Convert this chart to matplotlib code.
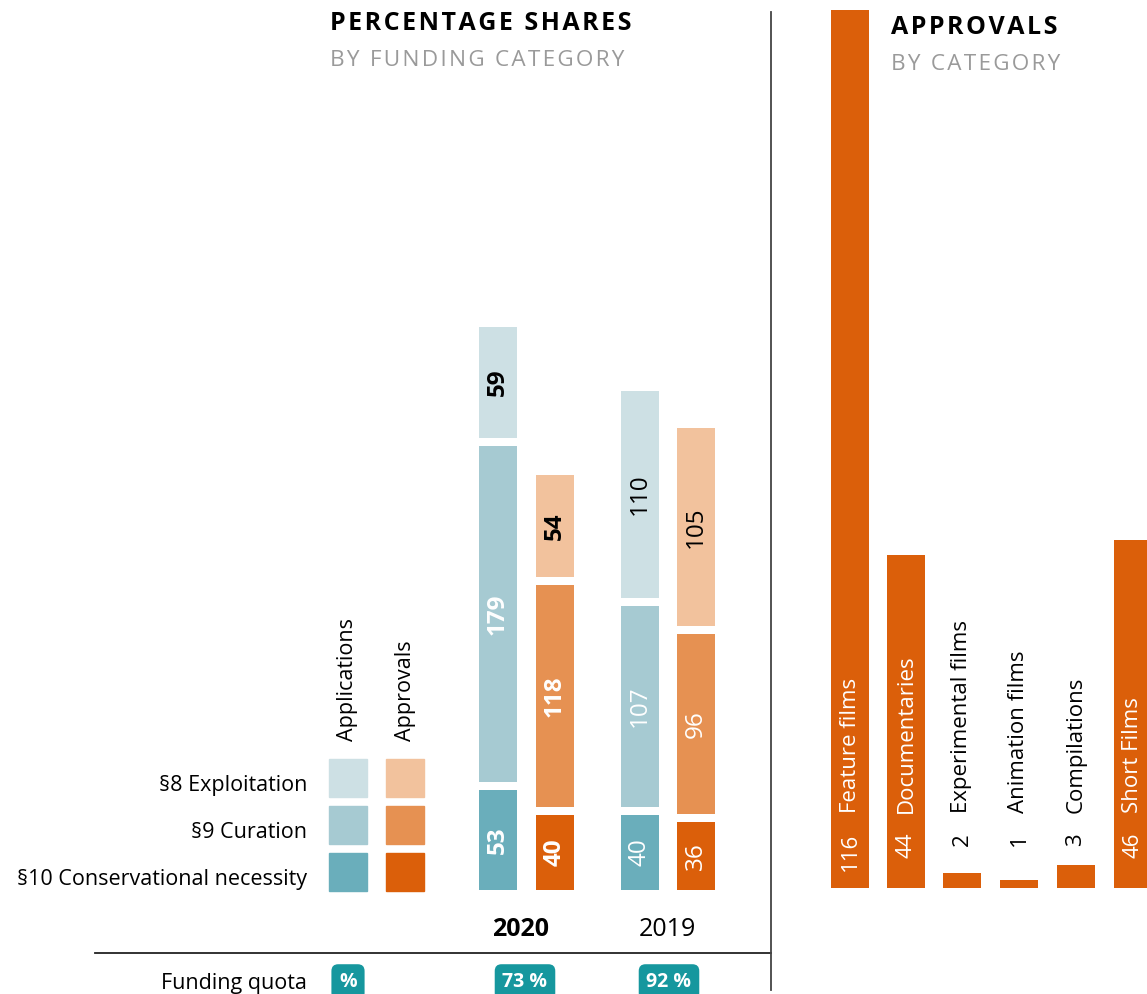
import matplotlib.pyplot as plt
from matplotlib.patches import Rectangle

plt.rcParams['font.family'] = ['Open Sans', 'DejaVu Sans']

# data
years = ['2020', '2019']
categories = ['§8 Exploitation', '§9 Curation', '§10 Conservational necessity']
applications = {'2020': [59, 179, 53], '2019': [110, 107, 40]}
approvals = {'2020': [54, 118, 40], '2019': [105, 96, 36]}
funding_quota = ['73 %', '92 %']

film_types = ['Feature films', 'Documentaries', 'Experimental films',
              'Animation films', 'Compilations', 'Short Films']
film_approvals = [116, 44, 2, 1, 3, 46]

# colours: light, mid, dark
TEAL = ['#cde0e4', '#a6cad2', '#6aaebb']
ORANGE = ['#f2c29d', '#e69152', '#db5f0a']
BADGE = '#16979e'

W, H = 1147, 994
fig = plt.figure(figsize=(W / 100, H / 100), dpi=100)

# left stacked bars, value units (1.88 px per unit, baseline at y=890)
L_SCALE, L_BASE = 1.88, 890
axl = fig.add_axes([0, 0, 1, 1], zorder=1)
axl.set_xlim(0, W)
axl.set_ylim(-(H - L_BASE) / L_SCALE, L_BASE / L_SCALE)
axl.axis('off')

# right bars (7.57 px per unit, baseline at y=888)
R_SCALE, R_BASE = 7.57, 888
axr = fig.add_axes([0, 0, 1, 1], zorder=2)
axr.set_xlim(0, W)
axr.set_ylim(-(H - R_BASE) / R_SCALE, R_BASE / R_SCALE)
axr.axis('off')
axr.patch.set_alpha(0)

# overlay axes in pixel coordinates for layout text
ax = fig.add_axes([0, 0, 1, 1], zorder=3)
ax.set_xlim(0, W)
ax.set_ylim(H, 0)
ax.axis('off')
ax.patch.set_alpha(0)

gap = 8 / L_SCALE
bar_w = 38
group_x = {'2020': (498, 555), '2019': (640, 696)}

for year in years:
    bold = 'bold' if year == '2020' else 'normal'
    for x, vals, cols in [(group_x[year][0], applications[year], TEAL),
                          (group_x[year][1], approvals[year], ORANGE)]:
        bottom = 0
        # stack from bottom (§10) to top (§8)
        for i in (2, 1, 0):
            v = vals[i]
            axl.bar(x, v, width=bar_w, bottom=bottom, color=cols[i])
            axl.text(x, bottom + v / 2, str(v), rotation=90, ha='center', va='center',
                     fontsize=17.5, fontweight=bold,
                     color='black' if i == 0 else 'white')
            bottom += v + gap

film_x = [850, 906, 962, 1019, 1076, 1133]
axr.bar(film_x, film_approvals, width=bar_w, color=ORANGE[2])
for x, name, v in zip(film_x, film_types, film_approvals):
    c = 'white' if v * R_SCALE > 90 else 'black'
    ax.text(x, 833, str(v), rotation=90, rotation_mode='anchor', ha='right',
            va='center', fontsize=16, color=c)
    ax.text(x, 813, name, rotation=90, rotation_mode='anchor', ha='left',
            va='center', fontsize=16, color=c)

# legend squares and labels
leg_y = [778, 825, 872]
for y, lab, ct, co in zip(leg_y, categories, TEAL, ORANGE):
    ax.add_patch(Rectangle((329, y - 19), 38, 38, color=ct))
    ax.add_patch(Rectangle((386, y - 19), 38, 38, color=co))
    ax.text(307, y + 7, lab, ha='right', va='center', fontsize=15.5)
ax.text(348, 741, 'Applications', rotation=90, rotation_mode='anchor',
        ha='left', va='center', fontsize=15.5)
ax.text(405, 741, 'Approvals', rotation=90, rotation_mode='anchor',
        ha='left', va='center', fontsize=15.5)

# year labels
ax.text(521, 929, years[0], ha='center', va='center', fontsize=18, fontweight='bold')
ax.text(667, 929, years[1], ha='center', va='center', fontsize=18)

# separators
ax.plot([95, 771], [953, 953], color='#222222', lw=1.3)
ax.plot([771, 771], [12, 990], color='#444444', lw=1.3)

# funding quota row
ax.text(307, 983, 'Funding quota', ha='right', va='center', fontsize=15.5)
badge = dict(boxstyle='round,pad=0.4,rounding_size=0.35', fc=BADGE, ec='none')
ax.text(348, 982, '%', ha='center', va='center', fontsize=14, fontweight='bold',
        color='white', bbox=badge)
for x, q in zip([525, 669], funding_quota):
    ax.text(x, 982, q, ha='center', va='center', fontsize=14,
            fontweight='bold', color='white', bbox=badge)


def spaced(s):
    return '\u200a'.join(s)


# titles
ax.text(330, 24, spaced('PERCENTAGE SHARES'), ha='left', va='center',
        fontsize=18, fontweight='bold')
ax.text(330, 60, spaced('BY FUNDING CATEGORY'), ha='left', va='center',
        fontsize=16.2, color='#9a9a9a')
ax.text(891, 28, spaced('APPROVALS'), ha='left', va='center',
        fontsize=18, fontweight='bold')
ax.text(891, 64, spaced('BY CATEGORY'), ha='left', va='center',
        fontsize=16.2, color='#9a9a9a')

fig.savefig('out.png', dpi=100)
